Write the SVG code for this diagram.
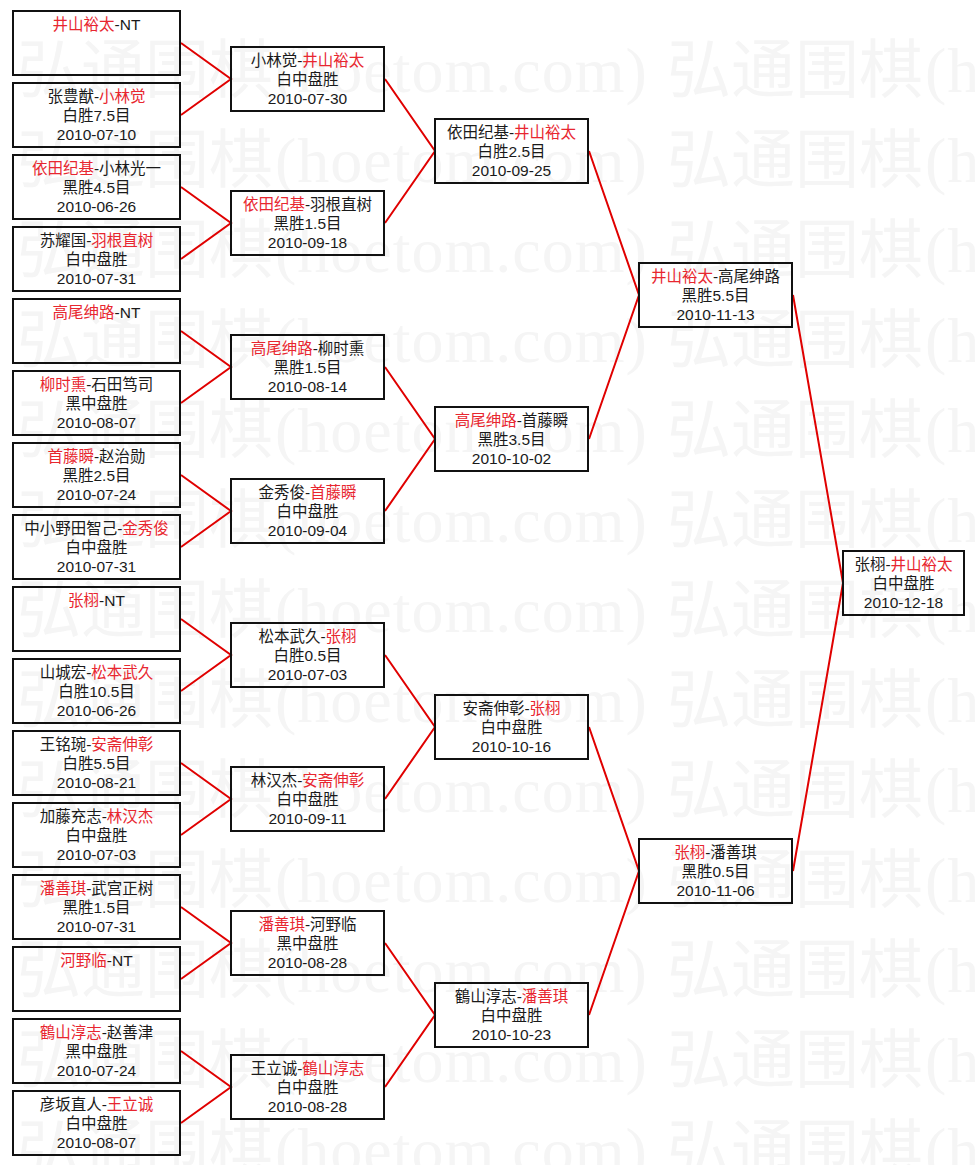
<svg xmlns="http://www.w3.org/2000/svg" xmlns:xlink="http://www.w3.org/1999/xlink" width="975" height="1165" viewBox="0 0 975 1165">
<style>
.bg{fill:#ffffff}
.wm{font-family:"Noto Sans CJK SC",sans-serif;font-size:64px;fill:#f5f5f5}
.wma{font-family:"Liberation Serif",serif;font-size:64px;letter-spacing:1px;fill:#f5f5f5}
.box{fill:none;stroke:#111111;stroke-width:2}
.t{font-family:"Liberation Sans","Noto Sans CJK SC",sans-serif;font-size:15.5px;fill:#1a1a1a;text-anchor:middle}
.r{fill:#e8262f}
.wire{fill:none;stroke:#e00000;stroke-width:2}
</style>
<defs>
<g id="wmrow">
<text class="wm" x="17" y="0">弘通围棋</text><text class="wma" x="275" y="0">(hoetom.com)</text>
<text class="wm" x="667" y="0">弘通围棋</text><text class="wma" x="925" y="0">(hoetom.com)</text>
</g>
</defs>
<rect class="bg" x="0" y="0" width="975" height="1165"/>
<g id="watermark">
<use xlink:href="#wmrow" y="92"/>
<use xlink:href="#wmrow" y="182"/>
<use xlink:href="#wmrow" y="272"/>
<use xlink:href="#wmrow" y="362"/>
<use xlink:href="#wmrow" y="452"/>
<use xlink:href="#wmrow" y="542"/>
<use xlink:href="#wmrow" y="632"/>
<use xlink:href="#wmrow" y="722"/>
<use xlink:href="#wmrow" y="812"/>
<use xlink:href="#wmrow" y="902"/>
<use xlink:href="#wmrow" y="992"/>
<use xlink:href="#wmrow" y="1082"/>
<use xlink:href="#wmrow" y="1172"/>
</g>
<g id="connectors">
<path class="wire" d="M181 43L231 79L181 115"/>
<path class="wire" d="M181 187L231 223L181 259"/>
<path class="wire" d="M181 331L231 367L181 403"/>
<path class="wire" d="M181 475L231 511L181 547"/>
<path class="wire" d="M181 619L231 655L181 691"/>
<path class="wire" d="M181 763L231 799L181 835"/>
<path class="wire" d="M181 907L231 943L181 979"/>
<path class="wire" d="M181 1051L231 1087L181 1123"/>
<path class="wire" d="M385 79L435 151L385 223"/>
<path class="wire" d="M385 367L435 439L385 511"/>
<path class="wire" d="M385 655L435 727L385 799"/>
<path class="wire" d="M385 943L435 1015L385 1087"/>
<path class="wire" d="M589 151L639 295L589 439"/>
<path class="wire" d="M589 727L639 871L589 1015"/>
<path class="wire" d="M793 295L843 583L793 871"/>
</g>
<!-- Round 1 -->
<g id="r1-1"><rect class="box" x="13" y="11" width="167" height="64"/><text class="t" x="96.5" y="30"><tspan class="r">井山裕太</tspan>-NT</text></g>
<g id="r1-2"><rect class="box" x="13" y="83" width="167" height="64"/><text class="t"><tspan x="96.5" y="102">张豊猷-<tspan class="r">小林觉</tspan></tspan><tspan x="96.5" y="121">白胜7.5目</tspan><tspan x="96.5" y="140">2010-07-10</tspan></text></g>
<g id="r1-3"><rect class="box" x="13" y="155" width="167" height="64"/><text class="t"><tspan x="96.5" y="174"><tspan class="r">依田纪基</tspan>-小林光一</tspan><tspan x="96.5" y="193">黑胜4.5目</tspan><tspan x="96.5" y="212">2010-06-26</tspan></text></g>
<g id="r1-4"><rect class="box" x="13" y="227" width="167" height="64"/><text class="t"><tspan x="96.5" y="246">苏耀国-<tspan class="r">羽根直树</tspan></tspan><tspan x="96.5" y="265">白中盘胜</tspan><tspan x="96.5" y="284">2010-07-31</tspan></text></g>
<g id="r1-5"><rect class="box" x="13" y="299" width="167" height="64"/><text class="t" x="96.5" y="318"><tspan class="r">高尾绅路</tspan>-NT</text></g>
<g id="r1-6"><rect class="box" x="13" y="371" width="167" height="64"/><text class="t"><tspan x="96.5" y="390"><tspan class="r">柳时熏</tspan>-石田笃司</tspan><tspan x="96.5" y="409">黑中盘胜</tspan><tspan x="96.5" y="428">2010-08-07</tspan></text></g>
<g id="r1-7"><rect class="box" x="13" y="443" width="167" height="64"/><text class="t"><tspan x="96.5" y="462"><tspan class="r">首藤瞬</tspan>-赵治勋</tspan><tspan x="96.5" y="481">黑胜2.5目</tspan><tspan x="96.5" y="500">2010-07-24</tspan></text></g>
<g id="r1-8"><rect class="box" x="13" y="515" width="167" height="64"/><text class="t"><tspan x="96.5" y="534">中小野田智己-<tspan class="r">金秀俊</tspan></tspan><tspan x="96.5" y="553">白中盘胜</tspan><tspan x="96.5" y="572">2010-07-31</tspan></text></g>
<g id="r1-9"><rect class="box" x="13" y="587" width="167" height="64"/><text class="t" x="96.5" y="606"><tspan class="r">张栩</tspan>-NT</text></g>
<g id="r1-10"><rect class="box" x="13" y="659" width="167" height="64"/><text class="t"><tspan x="96.5" y="678">山城宏-<tspan class="r">松本武久</tspan></tspan><tspan x="96.5" y="697">白胜10.5目</tspan><tspan x="96.5" y="716">2010-06-26</tspan></text></g>
<g id="r1-11"><rect class="box" x="13" y="731" width="167" height="64"/><text class="t"><tspan x="96.5" y="750">王铭琬-<tspan class="r">安斋伸彰</tspan></tspan><tspan x="96.5" y="769">白胜5.5目</tspan><tspan x="96.5" y="788">2010-08-21</tspan></text></g>
<g id="r1-12"><rect class="box" x="13" y="803" width="167" height="64"/><text class="t"><tspan x="96.5" y="822">加藤充志-<tspan class="r">林汉杰</tspan></tspan><tspan x="96.5" y="841">白中盘胜</tspan><tspan x="96.5" y="860">2010-07-03</tspan></text></g>
<g id="r1-13"><rect class="box" x="13" y="875" width="167" height="64"/><text class="t"><tspan x="96.5" y="894"><tspan class="r">潘善琪</tspan>-武宫正树</tspan><tspan x="96.5" y="913">黑胜1.5目</tspan><tspan x="96.5" y="932">2010-07-31</tspan></text></g>
<g id="r1-14"><rect class="box" x="13" y="947" width="167" height="64"/><text class="t" x="96.5" y="966"><tspan class="r">河野临</tspan>-NT</text></g>
<g id="r1-15"><rect class="box" x="13" y="1019" width="167" height="64"/><text class="t"><tspan x="96.5" y="1038"><tspan class="r">鶴山淳志</tspan>-赵善津</tspan><tspan x="96.5" y="1057">黑中盘胜</tspan><tspan x="96.5" y="1076">2010-07-24</tspan></text></g>
<g id="r1-16"><rect class="box" x="13" y="1091" width="167" height="64"/><text class="t"><tspan x="96.5" y="1110">彦坂直人-<tspan class="r">王立诚</tspan></tspan><tspan x="96.5" y="1129">白中盘胜</tspan><tspan x="96.5" y="1148">2010-08-07</tspan></text></g>
<!-- Round 2 -->
<g id="r2-1"><rect class="box" x="231" y="47" width="153" height="64"/><text class="t"><tspan x="307.5" y="66">小林觉-<tspan class="r">井山裕太</tspan></tspan><tspan x="307.5" y="85">白中盘胜</tspan><tspan x="307.5" y="104">2010-07-30</tspan></text></g>
<g id="r2-2"><rect class="box" x="231" y="191" width="153" height="64"/><text class="t"><tspan x="307.5" y="210"><tspan class="r">依田纪基</tspan>-羽根直树</tspan><tspan x="307.5" y="229">黑胜1.5目</tspan><tspan x="307.5" y="248">2010-09-18</tspan></text></g>
<g id="r2-3"><rect class="box" x="231" y="335" width="153" height="64"/><text class="t"><tspan x="307.5" y="354"><tspan class="r">高尾绅路</tspan>-柳时熏</tspan><tspan x="307.5" y="373">黑胜1.5目</tspan><tspan x="307.5" y="392">2010-08-14</tspan></text></g>
<g id="r2-4"><rect class="box" x="231" y="479" width="153" height="64"/><text class="t"><tspan x="307.5" y="498">金秀俊-<tspan class="r">首藤瞬</tspan></tspan><tspan x="307.5" y="517">白中盘胜</tspan><tspan x="307.5" y="536">2010-09-04</tspan></text></g>
<g id="r2-5"><rect class="box" x="231" y="623" width="153" height="64"/><text class="t"><tspan x="307.5" y="642">松本武久-<tspan class="r">张栩</tspan></tspan><tspan x="307.5" y="661">白胜0.5目</tspan><tspan x="307.5" y="680">2010-07-03</tspan></text></g>
<g id="r2-6"><rect class="box" x="231" y="767" width="153" height="64"/><text class="t"><tspan x="307.5" y="786">林汉杰-<tspan class="r">安斋伸彰</tspan></tspan><tspan x="307.5" y="805">白中盘胜</tspan><tspan x="307.5" y="824">2010-09-11</tspan></text></g>
<g id="r2-7"><rect class="box" x="231" y="911" width="153" height="64"/><text class="t"><tspan x="307.5" y="930"><tspan class="r">潘善琪</tspan>-河野临</tspan><tspan x="307.5" y="949">黑中盘胜</tspan><tspan x="307.5" y="968">2010-08-28</tspan></text></g>
<g id="r2-8"><rect class="box" x="231" y="1055" width="153" height="64"/><text class="t"><tspan x="307.5" y="1074">王立诚-<tspan class="r">鶴山淳志</tspan></tspan><tspan x="307.5" y="1093">白中盘胜</tspan><tspan x="307.5" y="1112">2010-08-28</tspan></text></g>
<!-- Round 3 -->
<g id="r3-1"><rect class="box" x="435" y="119" width="153" height="64"/><text class="t"><tspan x="511.5" y="138">依田纪基-<tspan class="r">井山裕太</tspan></tspan><tspan x="511.5" y="157">白胜2.5目</tspan><tspan x="511.5" y="176">2010-09-25</tspan></text></g>
<g id="r3-2"><rect class="box" x="435" y="407" width="153" height="64"/><text class="t"><tspan x="511.5" y="426"><tspan class="r">高尾绅路</tspan>-首藤瞬</tspan><tspan x="511.5" y="445">黑胜3.5目</tspan><tspan x="511.5" y="464">2010-10-02</tspan></text></g>
<g id="r3-3"><rect class="box" x="435" y="695" width="153" height="64"/><text class="t"><tspan x="511.5" y="714">安斋伸彰-<tspan class="r">张栩</tspan></tspan><tspan x="511.5" y="733">白中盘胜</tspan><tspan x="511.5" y="752">2010-10-16</tspan></text></g>
<g id="r3-4"><rect class="box" x="435" y="983" width="153" height="64"/><text class="t"><tspan x="511.5" y="1002">鶴山淳志-<tspan class="r">潘善琪</tspan></tspan><tspan x="511.5" y="1021">白中盘胜</tspan><tspan x="511.5" y="1040">2010-10-23</tspan></text></g>
<!-- Round 4 -->
<g id="r4-1"><rect class="box" x="639" y="263" width="153" height="64"/><text class="t"><tspan x="715.5" y="282"><tspan class="r">井山裕太</tspan>-高尾绅路</tspan><tspan x="715.5" y="301">黑胜5.5目</tspan><tspan x="715.5" y="320">2010-11-13</tspan></text></g>
<g id="r4-2"><rect class="box" x="639" y="839" width="153" height="64"/><text class="t"><tspan x="715.5" y="858"><tspan class="r">张栩</tspan>-潘善琪</tspan><tspan x="715.5" y="877">黑胜0.5目</tspan><tspan x="715.5" y="896">2010-11-06</tspan></text></g>
<!-- Final -->
<g id="final"><rect class="box" x="843" y="551" width="121" height="64"/><text class="t"><tspan x="903.5" y="570">张栩-<tspan class="r">井山裕太</tspan></tspan><tspan x="903.5" y="589">白中盘胜</tspan><tspan x="903.5" y="608">2010-12-18</tspan></text></g>
</svg>
